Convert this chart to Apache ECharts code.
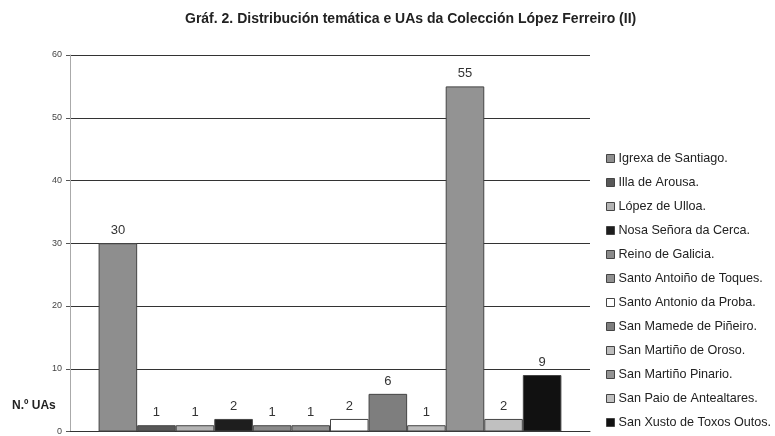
<!DOCTYPE html>
<html><head><meta charset="utf-8">
<script src="https://cdn.jsdelivr.net/npm/echarts@6/dist/echarts.min.js"></script>
<style>html,body{margin:0;padding:0;background:#fff}#c{width:775px;height:436px}</style>
</head><body><div id="c"></div>
<script>
const titleText = "Gráf. 2. Distribución temática e UAs da Colección López Ferreiro (II)";
const yName = "N.º UAs";
const seriesNames = ["Igrexa de Santiago.","Illa de Arousa.","López de Ulloa.","Nosa Señora da Cerca.","Reino de Galicia.","Santo Antoiño de Toques.","Santo Antonio da Proba.","San Mamede de Piñeiro.","San Martiño de Oroso.","San Martiño Pinario.","San Paio de Antealtares.","San Xusto de Toxos Outos."];
const values = [30,1,1,2,1,1,2,6,1,55,2,9];
const colors = ["#8e8e8e","#585858","#b4b4b4","#1e1e1e","#8a8a8a","#909090","#ffffff","#7e7e7e","#bcbcbc","#939393","#c0c0c0","#111111"];
const yTicks = [0,10,20,30,40,50,60];

const chart = echarts.init(document.getElementById('c'));
const series = seriesNames.map((n,i)=>({
  name:n, type:'bar', data:[values[i]], barGap:'0%', barCategoryGap:'11%',
  itemStyle:{color:colors[i], borderColor:'#444', borderWidth:1},
  label:{show:true, position:'top', color:'#333', fontSize:13, fontFamily:'Liberation Sans, Arial', distance:6},
  emphasis:{disabled:true}
}));
chart.setOption({
  animation:false,
  backgroundColor:'#fff',
  title:{text:titleText, left:180, top:7, textStyle:{fontSize:14, fontWeight:'bold', color:'#222', fontFamily:'Liberation Sans, Arial'}},
  legend:{orient:'vertical', left:606, top:152, padding:0, itemWidth:8, itemHeight:8, itemGap:11,
    icon:'rect', itemStyle:{borderColor:'#444', borderWidth:1},
    textStyle:{fontSize:12.6, lineHeight:13, color:'#222', fontFamily:'Liberation Sans, Arial', padding:[0,0,0,-1]}, data:seriesNames},
  grid:{left:70, right:185, top:55, bottom:4, containLabel:false},
  xAxis:{type:'category', data:[''], axisLine:{show:true, lineStyle:{color:'#333'}}, axisTick:{show:false}, axisLabel:{show:false}},
  yAxis:{type:'value', min:yTicks[0], max:yTicks[yTicks.length-1], interval:10,
    axisLine:{show:true, lineStyle:{color:'#aaa'}}, axisTick:{show:true, length:4, lineStyle:{color:'#555'}},
    axisLabel:{fontSize:9, color:'#444', fontFamily:'Liberation Sans, Arial', margin:8},
    splitLine:{lineStyle:{color:'#333', width:1}}},
  graphic:[{type:'text', left:12, top:400, style:{text:yName, fontSize:12, fontWeight:'bold', fill:'#222', fontFamily:'Liberation Sans, Arial'}}],
  series:series
});
</script></body></html>
